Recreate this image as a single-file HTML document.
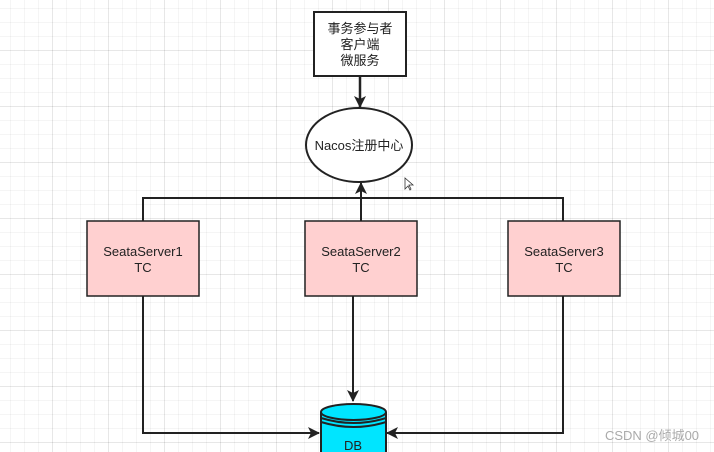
<!DOCTYPE html>
<html><head><style>
body{margin:0;width:714px;height:452px;overflow:hidden;background:#fff;
background-image:
linear-gradient(90deg,rgba(0,0,0,0.06) 1px,transparent 1px),
linear-gradient(rgba(0,0,0,0.06) 1px,transparent 1px),
linear-gradient(90deg,rgba(0,0,0,0.04) 1px,transparent 1px),
linear-gradient(rgba(0,0,0,0.04) 1px,transparent 1px);
background-size:56px 56px,56px 56px,14px 14px,14px 14px;
background-position:52px 50px,52px 50px,10px 8px,10px 8px;}
svg{position:absolute;left:0;top:0}
text{font-family:"Liberation Sans","Noto Sans CJK SC",sans-serif;font-size:13px;fill:#222;text-anchor:middle}
</style></head><body>
<svg width="714" height="452">
<defs><marker id="a" markerWidth="12" markerHeight="12" refX="11" refY="6" orient="auto" markerUnits="userSpaceOnUse"><path d="M0,0 L12,6 L0,12 L3,6 z" fill="#222"/></marker></defs>
<rect x="314" y="12" width="92" height="64" fill="#fff" stroke="#222" stroke-width="2"/>
<text x="360" y="33">事务参与者</text><text x="360" y="49">客户端</text><text x="360" y="65">微服务</text>
<line x1="360" y1="77" x2="360" y2="107" stroke="#222" stroke-width="2.5" marker-end="url(#a)"/>
<ellipse cx="359" cy="145" rx="53" ry="37" fill="#fff" stroke="#222" stroke-width="2"/>
<text x="359" y="150">Nacos注册中心</text>
<path d="M143,221 V198 H563 V221" fill="none" stroke="#222" stroke-width="2"/>
<line x1="361" y1="221" x2="361" y2="183" stroke="#222" stroke-width="2" marker-end="url(#a)"/>
<g stroke="#222" stroke-width="1.5" fill="#ffd0d0">
<rect x="87" y="221" width="112" height="75"/><rect x="305" y="221" width="112" height="75"/><rect x="508" y="221" width="112" height="75"/></g>
<text x="143" y="256">SeataServer1</text><text x="143" y="272">TC</text>
<text x="361" y="256">SeataServer2</text><text x="361" y="272">TC</text>
<text x="564" y="256">SeataServer3</text><text x="564" y="272">TC</text>
<path d="M143,296 V433 H319" fill="none" stroke="#222" stroke-width="2" marker-end="url(#a)"/>
<path d="M563,296 V433 H387" fill="none" stroke="#222" stroke-width="2" marker-end="url(#a)"/>
<line x1="353" y1="296" x2="353" y2="401" stroke="#222" stroke-width="2" marker-end="url(#a)"/>
<path d="M321,412 V460 H386 V412" fill="#00e5ff" stroke="#222" stroke-width="2"/>
<ellipse cx="353.5" cy="412" rx="32.5" ry="8" fill="#00e5ff" stroke="#222" stroke-width="2"/>
<path d="M321,418 Q353.5,428 386,418 M321,422 Q353.5,432 386,422" fill="none" stroke="#222" stroke-width="2"/>
<text x="353" y="450">DB</text>
<text x="652" y="440" style="fill:#aaa;font-size:13px">CSDN @倾城00</text>
<path d="M405,178 l0,11 l3,-3 l2,4 l1,-1 l-2,-4 l4,0 z" fill="#fff" stroke="#333" stroke-width="0.8"/>
</svg>
</body></html>
